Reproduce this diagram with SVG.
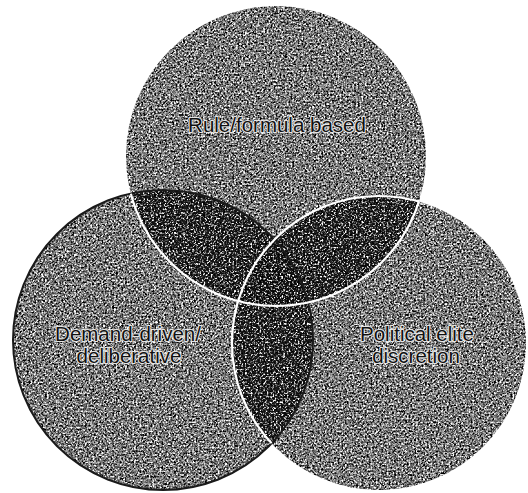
<svg xmlns="http://www.w3.org/2000/svg" width="528" height="493" viewBox="0 0 528 493">
  <style>
    .single { fill: #7c7c7c; }
    .pair { fill: #1e1e1e; }
    .triple { fill: #141414; }
    .lbl { font-family: "Liberation Sans", Arial, sans-serif; font-size: 20.5px; fill: #111111; stroke: #e6e6e6; stroke-width: 2px; paint-order: stroke; text-anchor: middle; stroke-linejoin: round; }
    .whiteedge { fill: none; stroke: #ffffff; stroke-width: 2.2; }
    .darkedge { fill: none; stroke: #1a1a1a; stroke-width: 2; }
  </style>
  <defs>
    <clipPath id="cTop"><circle cx="276" cy="156" r="150"/></clipPath>
    <clipPath id="cLeft"><circle cx="163" cy="340" r="150"/></clipPath>
    <clipPath id="cRight"><circle cx="379" cy="343" r="147"/></clipPath>
    <clipPath id="cLeftRight"><circle cx="163" cy="340" r="150"/><circle cx="379" cy="343" r="147"/></clipPath>
    <clipPath id="cTopLeft"><circle cx="276" cy="156" r="150"/><circle cx="163" cy="340" r="150"/></clipPath>
    <filter id="grain" x="0" y="0" width="528" height="493" filterUnits="userSpaceOnUse" color-interpolation-filters="sRGB">
      <feTurbulence type="fractalNoise" baseFrequency="0.55" numOctaves="2" seed="7" result="t"/>
      <feColorMatrix in="t" type="matrix" values="0.33 0.33 0.33 0 0  0.33 0.33 0.33 0 0  0.33 0.33 0.33 0 0  0 0 0 0 1" result="g"/>
      <feComponentTransfer in="g" result="bw">
        <feFuncR type="linear" slope="4" intercept="-1.5"/>
        <feFuncG type="linear" slope="4" intercept="-1.5"/>
        <feFuncB type="linear" slope="4" intercept="-1.5"/>
      </feComponentTransfer>
      <feBlend in="bw" in2="SourceGraphic" mode="hard-light" result="mix"/>
      <feComposite in="mix" in2="SourceGraphic" operator="in"/>
    </filter>
  </defs>

  <g id="node-demand">
    <circle class="single" cx="163" cy="340" r="150" filter="url(#grain)"/>
    <text class="lbl" x="128" y="341">Demand-driven/</text>
    <text class="lbl" x="129" y="363">deliberative</text>
  </g>

  <g id="node-rule">
    <circle class="single" cx="276" cy="156" r="150" filter="url(#grain)"/>
    <text class="lbl" x="277" y="132">Rule/formula based</text>
  </g>

  <g id="node-political">
    <circle class="single" cx="379" cy="343" r="147" filter="url(#grain)"/>
    <text class="lbl" x="417" y="341">Political elite</text>
    <text class="lbl" x="416" y="363">discretion</text>
  </g>

  <g id="overlaps" filter="url(#grain)">
    <circle class="pair" cx="276" cy="156" r="150" clip-path="url(#cLeft)"/>
    <circle class="pair" cx="276" cy="156" r="150" clip-path="url(#cRight)"/>
    <circle class="pair" cx="163" cy="340" r="150" clip-path="url(#cRight)"/>
    <g clip-path="url(#cLeft)">
      <circle class="triple" cx="276" cy="156" r="150" clip-path="url(#cRight)"/>
    </g>
  </g>

  <g id="edges">
    <circle class="darkedge" cx="163" cy="340" r="150"/>
    <circle class="whiteedge" cx="276" cy="156" r="150" clip-path="url(#cLeftRight)"/>
    <circle class="whiteedge" cx="379" cy="343" r="147" clip-path="url(#cTopLeft)"/>
  </g>
</svg>
